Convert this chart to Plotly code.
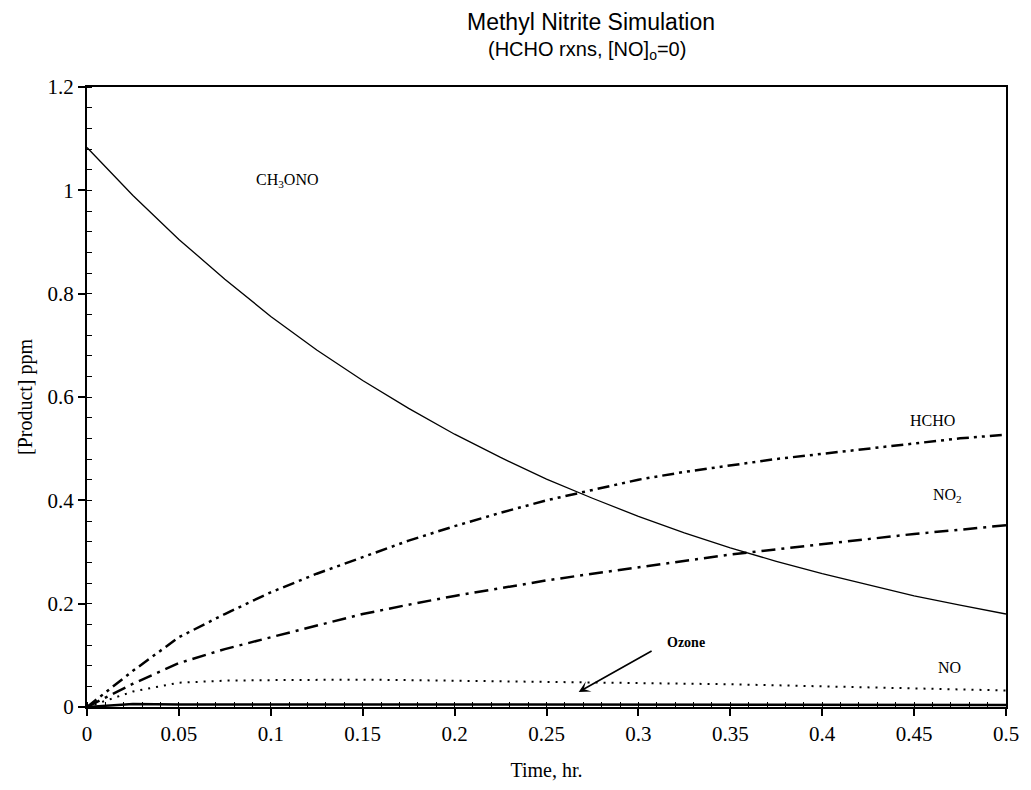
import plotly.graph_objects as go

t = [0, 0.025, 0.05, 0.075, 0.1, 0.125, 0.15, 0.175, 0.2, 0.225, 0.25,
     0.275, 0.3, 0.325, 0.35, 0.375, 0.4, 0.425, 0.45, 0.475, 0.5]
ch3ono = [1.083, 0.99, 0.905, 0.828, 0.756, 0.691, 0.632, 0.578, 0.528, 0.483, 0.441,
          0.404, 0.369, 0.337, 0.308, 0.282, 0.258, 0.236, 0.215, 0.197, 0.18]
hcho = [0, 0.07, 0.135, 0.18, 0.222, 0.258, 0.29, 0.322, 0.35, 0.376, 0.40,
        0.42, 0.44, 0.455, 0.468, 0.48, 0.49, 0.50, 0.51, 0.52, 0.527]
no2 = [0, 0.045, 0.085, 0.112, 0.135, 0.158, 0.18, 0.198, 0.215, 0.23, 0.245,
       0.258, 0.27, 0.283, 0.295, 0.305, 0.315, 0.325, 0.335, 0.343, 0.352]
ozone = [0, 0.03, 0.047, 0.051, 0.052, 0.053, 0.053, 0.052, 0.051, 0.05, 0.049,
         0.048, 0.047, 0.046, 0.044, 0.042, 0.04, 0.038, 0.036, 0.034, 0.032]
no = [0, 0.006, 0.005, 0.005, 0.005, 0.005, 0.005, 0.005, 0.005, 0.005, 0.005,
      0.005, 0.005, 0.005, 0.004, 0.004, 0.004, 0.004, 0.004, 0.004, 0.004]

x_ticks = [0, 0.05, 0.1, 0.15, 0.2, 0.25, 0.3, 0.35, 0.4, 0.45, 0.5]
x_labels = ["0", "0.05", "0.1", "0.15", "0.2", "0.25", "0.3", "0.35", "0.4", "0.45", "0.5"]
y_ticks = [0, 0.2, 0.4, 0.6, 0.8, 1.0, 1.2]
y_labels = ["0", "0.2", "0.4", "0.6", "0.8", "1", "1.2"]

serif = "Liberation Serif, Times New Roman, serif"
sans = "Liberation Sans, Arial, sans-serif"

fig = go.Figure()
fig.add_trace(go.Scatter(x=t, y=ch3ono, mode="lines", line=dict(color="black", width=1.3), name="CH3ONO"))
fig.add_trace(go.Scatter(x=t, y=hcho, mode="lines",
                         line=dict(color="black", width=2.5, dash="12px,5px,3px,5px,3px,5px"), name="HCHO"))
fig.add_trace(go.Scatter(x=t, y=no2, mode="lines",
                         line=dict(color="black", width=2.5, dash="14px,6px,3px,6px"), name="NO2"))
fig.add_trace(go.Scatter(x=t, y=ozone, mode="lines",
                         line=dict(color="black", width=2, dash="2px,6px"), name="Ozone"))
fig.add_trace(go.Scatter(x=t, y=no, mode="lines",
                         line=dict(color="black", width=2.5), name="NO"))

lbl = dict(font=dict(family=serif, size=16, color="black"), showarrow=False, xref="x", yref="y")
fig.add_annotation(x=0.109, y=1.02, text="CH<sub>3</sub>ONO", **lbl)
fig.add_annotation(x=0.46, y=0.555, text="HCHO", **lbl)
fig.add_annotation(x=0.468, y=0.41, text="NO<sub>2</sub>", **lbl)
fig.add_annotation(x=0.469, y=0.077, text="NO", **lbl)
fig.add_annotation(x=0.326, y=0.125, text="<b>Ozone</b>",
                   font=dict(family=serif, size=14, color="black"), showarrow=False, xref="x", yref="y")
fig.add_annotation(x=0.2675, y=0.029, ax=0.308, ay=0.11, axref="x", ayref="y", xref="x", yref="y",
                   text="", showarrow=True, arrowhead=3, arrowsize=1.2, arrowwidth=1.6, arrowcolor="black")

fig.add_annotation(x=0.5, y=1.0, xref="paper", yref="paper", yanchor="middle",
                   yshift=65, xshift=44, showarrow=False,
                   text="Methyl Nitrite Simulation",
                   font=dict(family=sans, size=23, color="black"))
fig.add_annotation(x=0.5, y=1.0, xref="paper", yref="paper", yanchor="middle",
                   yshift=37, xshift=40, showarrow=False,
                   text="(HCHO rxns, [NO]<sub>o</sub>=0)",
                   font=dict(family=sans, size=20, color="black"))

fig.update_layout(
    width=1031, height=790,
    margin=dict(l=87, r=17, t=87, b=82),
    paper_bgcolor="white", plot_bgcolor="white",
    showlegend=False,
    font=dict(family=serif, color="black"),
)
fig.update_xaxes(range=[0, 0.5], tickvals=x_ticks, ticktext=x_labels,
                 showgrid=False, zeroline=False, showline=True, linecolor="black", linewidth=2,
                 mirror=True, ticks="outside", ticklen=7, tickwidth=1.5, tickcolor="black",
                 tickfont=dict(family=serif, size=21),
                 minor=dict(dtick=0.01, ticks="inside", ticklen=5, tickcolor="black", tickwidth=1),
                 title=dict(text="Time, hr.", font=dict(family=serif, size=20), standoff=18))
fig.update_yaxes(range=[0, 1.2], tickvals=y_ticks, ticktext=y_labels,
                 showgrid=False, zeroline=False, showline=True, linecolor="black", linewidth=2,
                 mirror=True, ticks="outside", ticklen=7, tickwidth=1.5, tickcolor="black",
                 tickfont=dict(family=serif, size=21),
                 minor=dict(tick0=0, dtick=0.04, ticks="inside", ticklen=5, tickcolor="black", tickwidth=1),
                 title=dict(text="[Product] ppm", font=dict(family=serif, size=20), standoff=10))

fig.write_html("out.html")
